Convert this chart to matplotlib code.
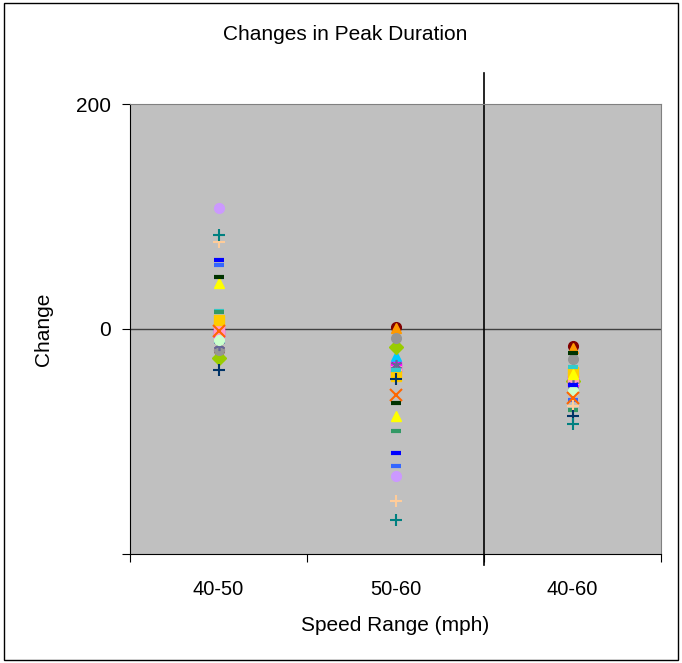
import matplotlib
matplotlib.use("Agg")
import matplotlib.pyplot as plt
from matplotlib.patches import Rectangle

plt.rcParams['font.family'] = ['Liberation Sans', 'DejaVu Sans']

categories = ['40-50', '50-60', '40-60']

# one entry per series: values for 40-50, 50-60, 40-60
darkred_circle = [-19, 2, -15]
orange_triangle = [-23, 1, -17]
cyan_triangle = [-7, -24, -35]
yellowgreen_diamond = [-26, -16, -46]
gray_circle = [-19, -8, -27]
magenta_square = [-3, -34, -46]
pink_square = [-1, -37, -44]
lavender_circle = [108, -131, -55]
slate_star = [-14, -32, -50]
mint_circle = [-10, -39, -55]
gold_square = [8, -42, -38]
yellow_triangle = [41, -77, -40]
cyan_dash = [16, -36, -34]
green_dash = [15, -91, -72]
black_dash = [46, -66, -21]
blue_dash = [61, -110, -50]
lightblue_dash = [57, -122, -63]
orange_x = [-2, -59, -61]
peach_plus = [77, -153, -68]
navy_plus = [-36, -44, -77]
teal_plus = [84, -170, -84]

series = [
    (darkred_circle, 'o', '#800000'),
    (orange_triangle, '^', '#FF9900'),
    (cyan_triangle, '^', '#00CCFF'),
    (yellowgreen_diamond, 'D', '#99CC00'),
    (gray_circle, 'o', '#969696'),
    (magenta_square, 's', '#FF00FF'),
    (pink_square, 's', '#FF99CC'),
    (lavender_circle, 'o', '#CC99FF'),
    (slate_star, (6, 2, 0), '#666699'),
    (mint_circle, 'o', '#CCFFCC'),
    (gold_square, 's', '#FFCC00'),
    (yellow_triangle, '^', '#FFFF00'),
    (cyan_dash, '_', '#33CCCC'),
    (green_dash, '_', '#339966'),
    (black_dash, '_', '#003300'),
    (blue_dash, '_', '#0000FF'),
    (lightblue_dash, '_', '#3366FF'),
    (orange_x, 'x', '#FF6600'),
    (peach_plus, '+', '#FFCC99'),
    (navy_plus, '+', '#003366'),
    (teal_plus, '+', '#008080'),
]

fig = plt.figure(figsize=(6.82, 6.63), dpi=100)
fig.patches.append(Rectangle((4 / 682, 3 / 663), 674 / 682, 657 / 663,
                             transform=fig.transFigure, fill=False,
                             edgecolor='black', linewidth=1))

ax = fig.add_axes([130 / 682, 1 - 554 / 663, 531 / 682, 450 / 663])
ax.set_facecolor('#C0C0C0')

xs = [0.5, 1.5, 2.5]
for vals, marker, color in series:
    if marker in ('+', 'x'):
        ax.plot(xs, vals, linestyle='none', marker=marker, color=color,
                markersize=8, markeredgewidth=1.5)
    elif marker == '_':
        ax.plot(xs, vals, linestyle='none', marker=marker, color=color,
                markersize=7, markeredgewidth=3)
    elif isinstance(marker, tuple):
        ax.plot(xs, vals, linestyle='none', marker=marker, color=color,
                markersize=8, markeredgewidth=1.2)
    else:
        ax.plot(xs, vals, linestyle='none', marker=marker, color=color,
                markeredgecolor=color, markersize=7)

ax.axhline(0, color='#404040', linewidth=1, zorder=0.5)
# separator line between the speed-range groups
ax.plot([2, 2], [228, -210], color='black', linewidth=1.2, clip_on=False)

ax.set_xlim(0, 3)
ax.set_ylim(-200, 200)
ax.set_yticks([-200, 0, 200])
ax.set_yticklabels(['', '0', '200'])
ax.set_xticks([0, 1, 2, 3])
ax.set_xticklabels([])
ax.set_xticks(xs, minor=True)
ax.set_xticklabels(categories, minor=True)
ax.tick_params(axis='x', which='major', direction='out', length=6, width=0.8)
ax.tick_params(axis='x', which='minor', length=0, pad=19, labelsize=14.5)
ax.tick_params(axis='y', direction='out', length=6, width=0.8, labelsize=15, pad=8)

for side in ('top', 'right'):
    ax.spines[side].set_color('#808080')
for side in ('left', 'bottom'):
    ax.spines[side].set_color('black')

fig.text(345 / 682, 1 - 35 / 663, 'Changes in Peak Duration', fontsize=15,
         ha='center', va='center')
ax.set_xlabel('Speed Range (mph)', fontsize=15, labelpad=12)
ax.set_ylabel('Change', fontsize=15, labelpad=16)

fig.savefig('out.png', dpi=100)
